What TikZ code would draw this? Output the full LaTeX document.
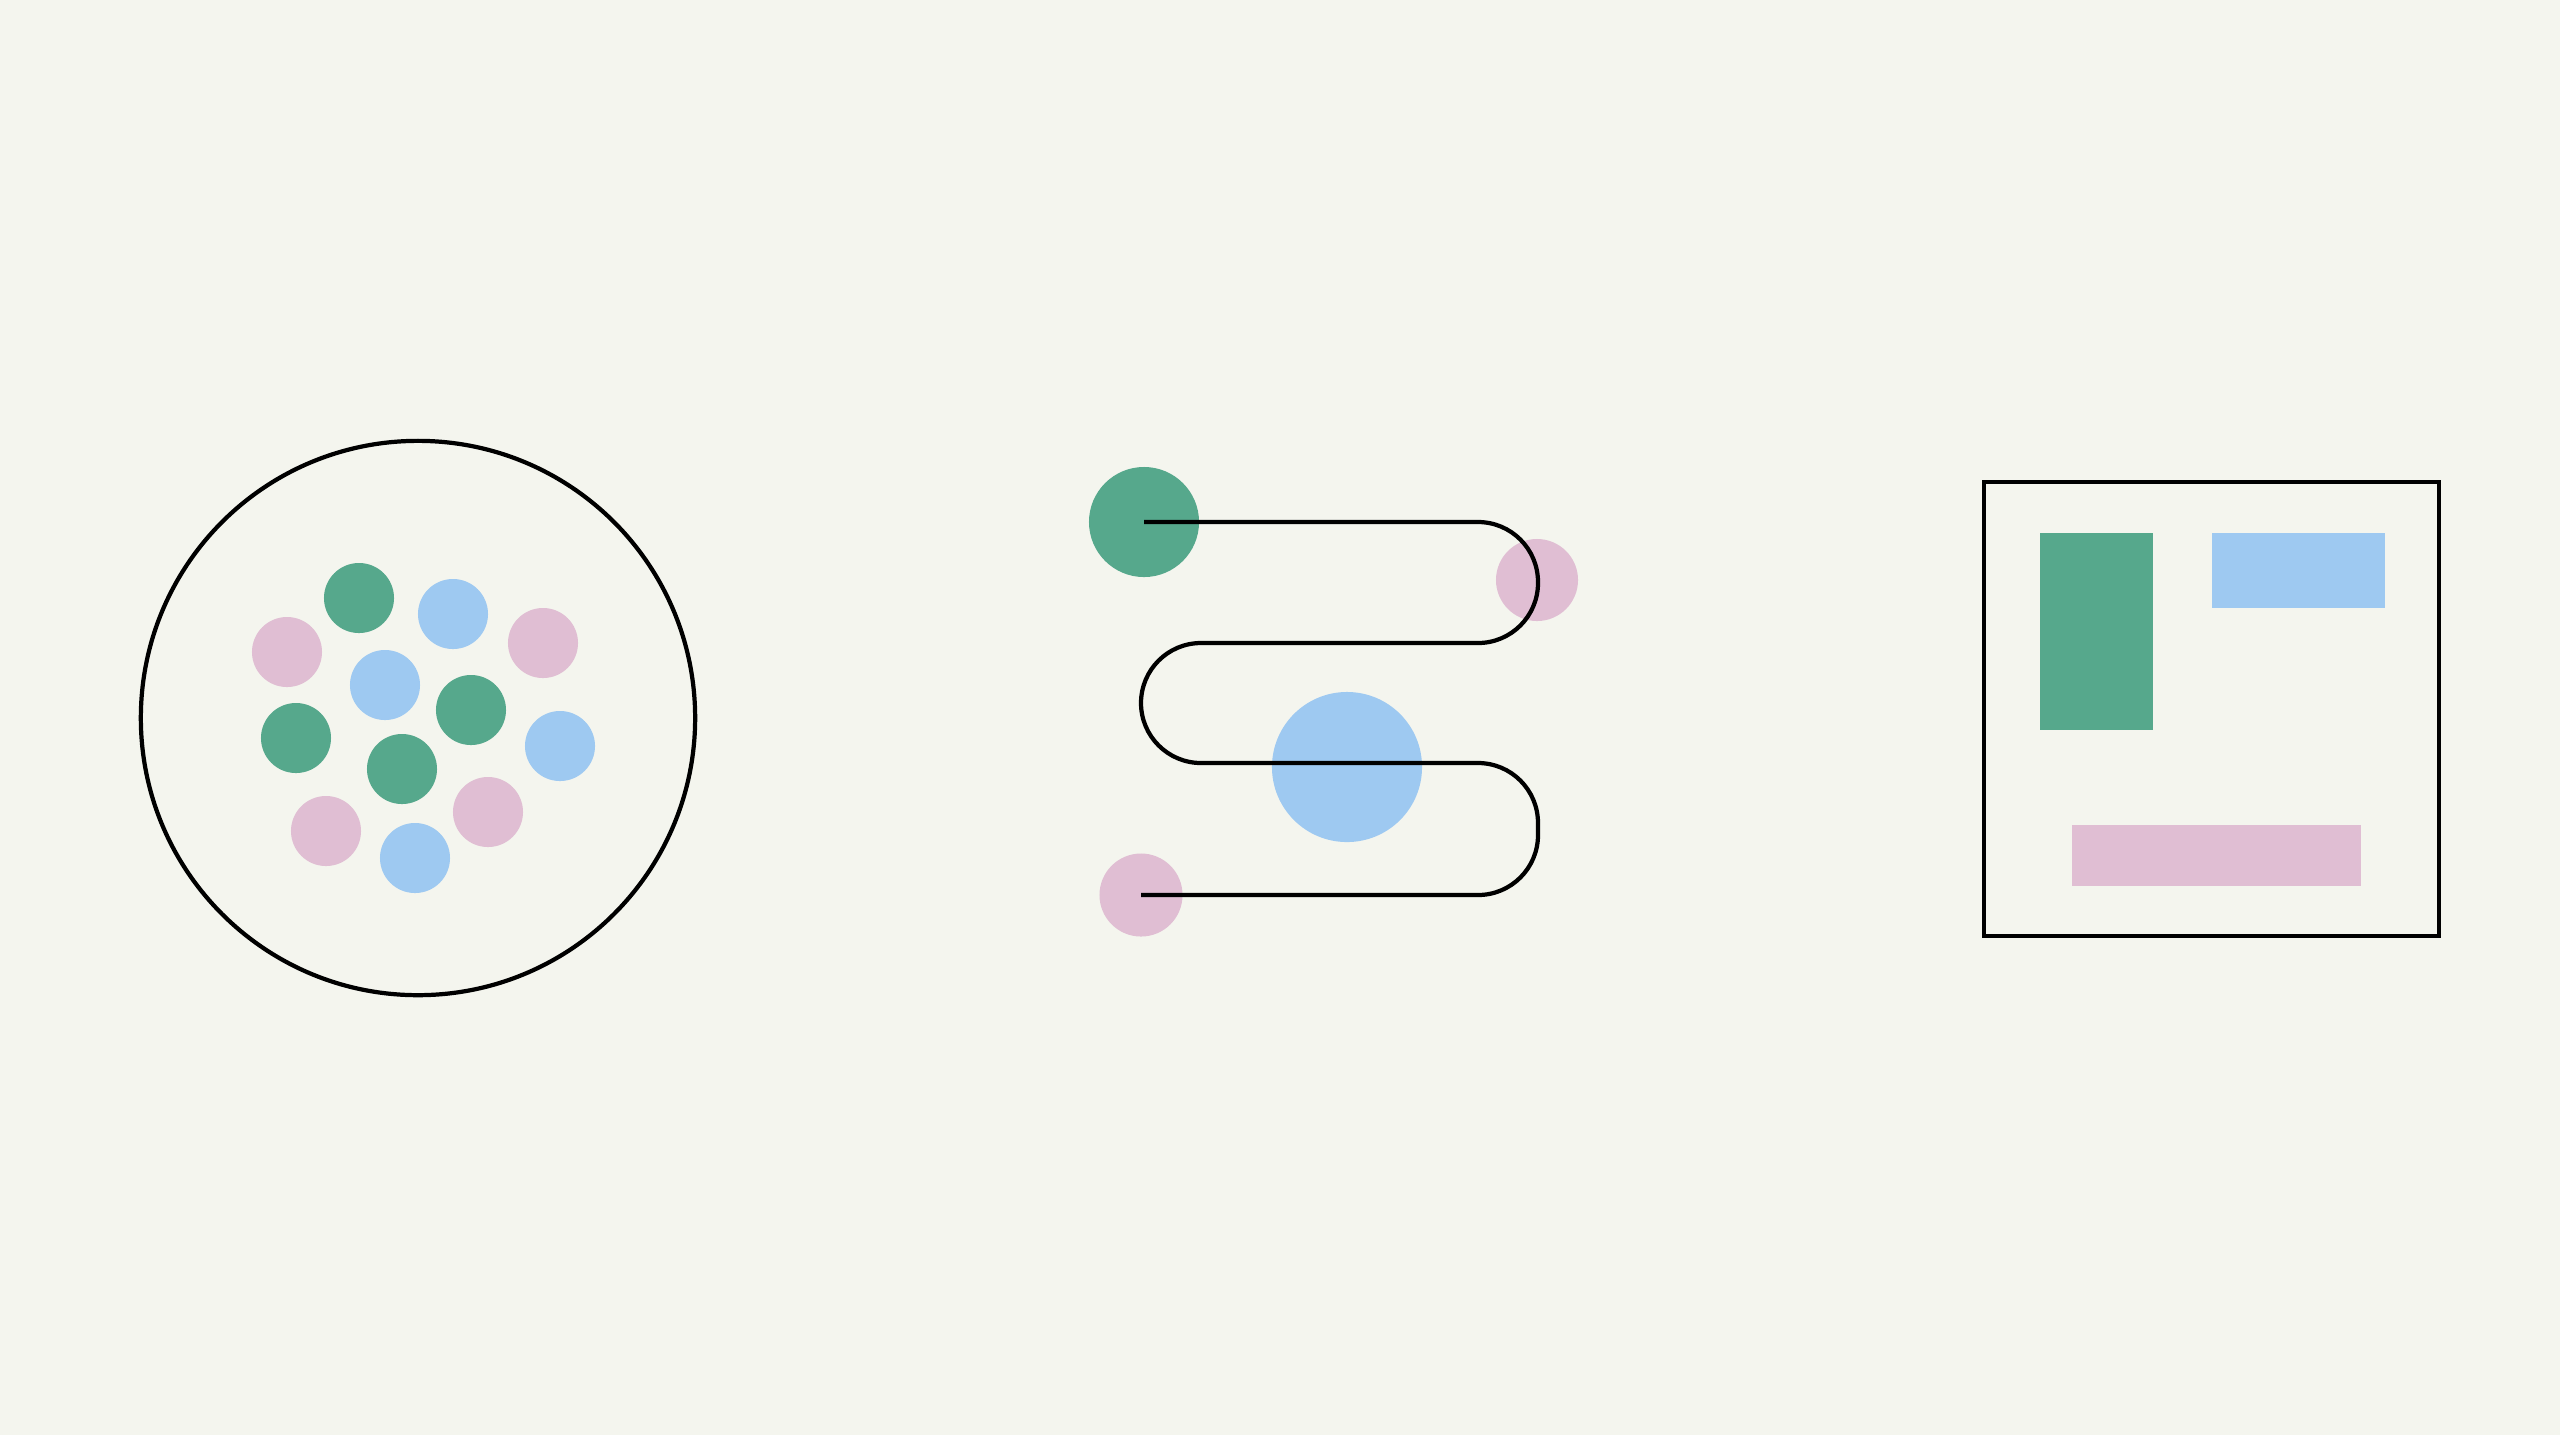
\documentclass[tikz,border=0pt]{standalone}
\definecolor{bgc}{RGB}{244,245,238}
\definecolor{grn}{RGB}{86,168,140}
\definecolor{blu}{RGB}{158,201,241}
\definecolor{pnk}{RGB}{224,190,211}
\begin{document}
\begin{tikzpicture}[x=0.01cm,y=-0.01cm,
  dot/.style={circle,inner sep=0pt,minimum size=0.7cm,draw=none},
  gdot/.style={dot,fill=grn},
  bdot/.style={dot,fill=blu},
  pdot/.style={dot,fill=pnk},
  outline/.style={draw=black,line width=1.2pt},
  block/.style={draw=none,rectangle,inner sep=0pt}]
\fill[bgc] (0,0) rectangle (2560,1435);
\useasboundingbox (0,0) rectangle (2560,1435);
% left: circle of dots
\node[outline,circle,inner sep=0pt,minimum size=5.54cm] (ring) at (418,718) {};
\node[gdot] (d1) at (359,598) {};
\node[bdot] (d2) at (453,614) {};
\node[pdot] (d3) at (287,652) {};
\node[pdot] (d4) at (543,643) {};
\node[bdot] (d5) at (385,685) {};
\node[gdot] (d6) at (471,710) {};
\node[gdot] (d7) at (296,738) {};
\node[bdot] (d8) at (560,746) {};
\node[gdot] (d9) at (402,769) {};
\node[pdot] (d10) at (488,812) {};
\node[pdot] (d11) at (326,831) {};
\node[bdot] (d12) at (415,858) {};
% middle: winding path
\node[gdot,minimum size=1.1cm] (start) at (1144,522) {};
\node[pdot,minimum size=0.82cm] (turn) at (1537,580) {};
\node[bdot,minimum size=1.5cm] (mid) at (1347,767) {};
\node[pdot,minimum size=0.83cm] (finish) at (1141,895) {};
\coordinate (c1) at (1538,522);
\coordinate (c2) at (1538,643);
\coordinate (c3) at (1141,643);
\coordinate (c4) at (1141,763);
\coordinate (c5) at (1538,763);
\coordinate (c6) at (1538,895);
\draw[line width=1.2pt,rounded corners=0.6cm]
  (start.center) -- (c1) -- (c2) -- (c3) -- (c4) -- (c5) -- (c6) -- (finish.center);
% right: framed blocks
\node[outline,line width=1.3pt,rectangle,inner sep=0pt,minimum width=4.545cm,minimum height=4.54cm] (frame) at (2211.5,709) {};
\node[block,fill=grn,minimum width=1.13cm,minimum height=1.97cm] (gblock) at (2096.5,631.5) {};
\node[block,fill=blu,minimum width=1.73cm,minimum height=0.75cm] (bblock) at (2298.5,570.5) {};
\node[block,fill=pnk,minimum width=2.89cm,minimum height=0.61cm] (pblock) at (2216.5,855.5) {};
\end{tikzpicture}
\end{document}
